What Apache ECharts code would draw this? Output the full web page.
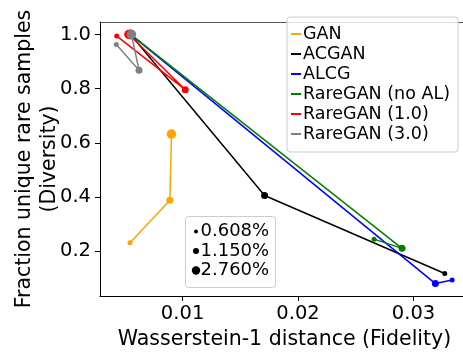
<!DOCTYPE html>
<html>
<head>
<meta charset="utf-8">
<script src="https://cdn.jsdelivr.net/npm/echarts@6/dist/echarts.min.js"></script>
<style>
  html, body { margin: 0; padding: 0; background: #fff; }
  #chart { width: 463px; height: 354px; }
</style>
</head>
<body>
<div id="chart"></div>
<script>
// Fraction of rare samples used by each run (one marker per fraction, in this order)
const rareFractions = ['0.608%', '1.150%', '2.760%'];

// Method names
const methods = ['GAN', 'ACGAN', 'ALCG', 'RareGAN (no AL)', 'RareGAN (1.0)', 'RareGAN (3.0)'];

// Wasserstein-1 distance (x) and diversity (y), one value per rare fraction
const ganX = [0.00545, 0.00890, 0.00904];
const ganY = [0.231, 0.388, 0.632];
const acganX = [0.0327, 0.0171, 0.0055];
const acganY = [0.117, 0.405, 1.0];
const alcgX = [0.03334, 0.03189, 0.0055];
const alcgY = [0.093, 0.080, 1.0];
const noAlX = [0.02658, 0.0290, 0.0055];
const noAlY = [0.244, 0.210, 1.0];
const rare10X = [0.0043, 0.01023, 0.00536];
const rare10Y = [0.994, 0.796, 1.0];
const rare30X = [0.00426, 0.00623, 0.00557];
const rare30Y = [0.963, 0.868, 1.0];

// Axis tick values
const xTicks = [0.01, 0.02, 0.03];
const yTicks = [0.2, 0.4, 0.6, 0.8, 1.0];

const seriesX = [ganX, acganX, alcgX, noAlX, rare10X, rare30X];
const seriesY = [ganY, acganY, alcgY, noAlY, rare10Y, rare30Y];
const colors = ['#FFA500', '#000000', '#0000FF', '#008000', '#FF0000', '#808080'];
const markerSizes = [5, 7, 9.5];
const FONT = 'DejaVu Sans';

const xRange = { min: 0.00285, max: 0.0348 };
const yRange = { min: 0.034, max: 1.046 };

const series = methods.map((name, i) => ({
  name: name,
  type: 'line',
  data: seriesX[i].map((x, k) => [x, seriesY[i][k]]),
  symbol: 'circle',
  showAllSymbol: true,
  symbolSize: (v, p) => markerSizes[p.dataIndex],
  itemStyle: { color: colors[i] },
  lineStyle: { color: colors[i], width: 1.5 },
  emphasis: { disabled: true },
  clip: false,
  z: 2 + i
}));

const chart = echarts.init(document.getElementById('chart'), null, { renderer: 'canvas' });

// Size key for the rare fractions
const keyRows = [231.5, 251, 270.5];
const keyDots = [2, 3, 4.2];
const sizeKey = [{
  type: 'rect',
  shape: { x: 185.5, y: 216.5, width: 90, height: 71, r: 3 },
  style: { fill: 'rgba(255,255,255,0.8)', stroke: '#cccccc', lineWidth: 1 },
  z: 100
}];
rareFractions.forEach((label, k) => {
  sizeKey.push({
    type: 'circle',
    shape: { cx: 196, cy: keyRows[k], r: keyDots[k] },
    style: { fill: '#000' },
    z: 101
  });
  sizeKey.push({
    type: 'text',
    x: 200.5, y: keyRows[k],
    style: { text: label, fill: '#000', font: '18px "' + FONT + '"', textVerticalAlign: 'middle', textAlign: 'left' },
    z: 101
  });
});

chart.setOption({
  animation: false,
  backgroundColor: '#fff',
  textStyle: { fontFamily: FONT },
  grid: { left: 100, top: 22, right: -6, bottom: 58, containLabel: false, outerBoundsMode: 'none' },
  legend: {
    data: methods,
    orient: 'vertical',
    left: 287,
    top: 17,
    padding: [7, 8, 8, 4],
    itemGap: 0,
    itemWidth: 10,
    itemHeight: 2,
    icon: 'rect',
    backgroundColor: 'rgba(255,255,255,0.8)',
    borderColor: '#cccccc',
    borderWidth: 1,
    borderRadius: 3,
    textStyle: { fontFamily: FONT, fontSize: 17.5, color: '#000', lineHeight: 20, padding: [0, 0, 0, -3] },
    selectedMode: false,
    z: 50
  },
  xAxis: [{
    type: 'value',
    min: xRange.min,
    max: xRange.max,
    name: 'Wasserstein-1 distance (Fidelity)',
    nameLocation: 'middle',
    nameGap: 33,
    nameMoveOverlap: false,
    nameTextStyle: { fontFamily: FONT, fontSize: 20.5, color: '#000' },
    axisLine: { show: true, onZero: false, lineStyle: { color: '#000', width: 1 } },
    axisTick: { show: true, length: 5, customValues: xTicks, lineStyle: { color: '#000' } },
    axisLabel: {
      customValues: xTicks, margin: 8, fontFamily: FONT, fontSize: 19.5, color: '#000',
      formatter: v => v.toFixed(2)
    },
    splitLine: { show: false }
  }, {
    type: 'value',
    position: 'top',
    min: xRange.min,
    max: xRange.max,
    axisLine: { show: true, onZero: false, lineStyle: { color: '#555', width: 1 } },
    axisTick: { show: false },
    axisLabel: { show: false },
    splitLine: { show: false }
  }],
  yAxis: {
    type: 'value',
    min: yRange.min,
    max: yRange.max,
    name: 'Fraction unique rare samples\n(Diversity)',
    nameLocation: 'middle',
    nameRotate: 90,
    nameGap: 37.5,
    nameMoveOverlap: false,
    nameTextStyle: { fontFamily: FONT, fontSize: 20.5, color: '#000', lineHeight: 25, align: 'center' },
    axisLine: { show: true, onZero: false, lineStyle: { color: '#000', width: 1 } },
    axisTick: { show: true, length: 5, customValues: yTicks, lineStyle: { color: '#000' } },
    axisLabel: {
      customValues: yTicks, margin: 9, fontFamily: FONT, fontSize: 19.5, color: '#000',
      formatter: v => v.toFixed(1)
    },
    splitLine: { show: false }
  },
  series: series,
  graphic: sizeKey
});
</script>
</body>
</html>
